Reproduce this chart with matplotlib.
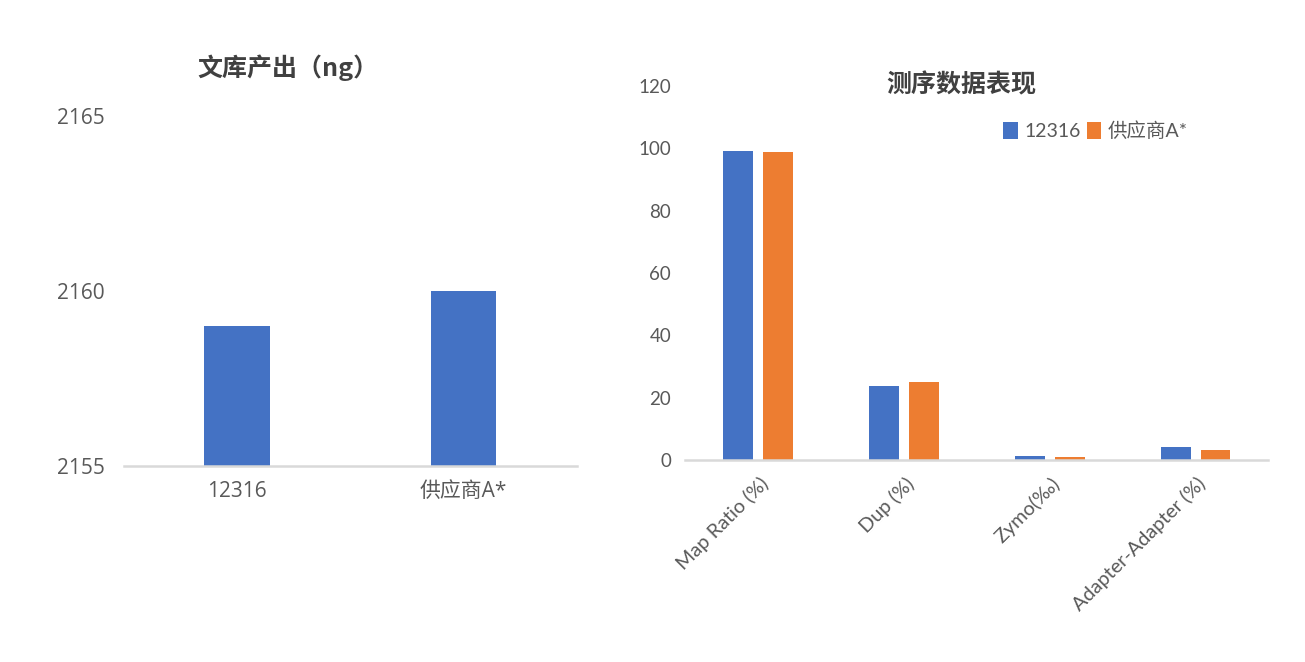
import matplotlib
matplotlib.use("Agg")
import matplotlib.pyplot as plt
import numpy as np

plt.rcParams["font.family"] = ["Open Sans", "Noto Sans CJK SC", "DejaVu Sans"]

# left chart: library yield
yield_labels = ["12316", "供应商A*"]
yield_values = [2159.0, 2160.0]
yield_ticks = [2155, 2160, 2165]

# right chart: sequencing metrics
metric_labels = ["Map Ratio (%)", "Dup (%)", "Zymo(‰)", "Adapter-Adapter (%)"]
series_names = ["12316", "供应商A*"]
series_12316 = [99.3, 23.8, 1.4, 4.1]
series_vendor = [98.9, 25.1, 1.0, 3.2]
metric_ticks = [0, 20, 40, 60, 80, 100, 120]

BLUE = "#4472C4"
ORANGE = "#ED7D31"
TEXT = "#595959"
TITLE = "#404040"
AXIS = "#D9D9D9"
CJK = ["Noto Sans CJK SC", "DejaVu Sans"]
LATIN = ["Lato", "Noto Sans CJK SC", "DejaVu Sans"]

fig = plt.figure(figsize=(13.05, 6.62), dpi=100)

# ---- left chart
ax1 = fig.add_axes([0.095, 0.296, 0.347, 0.529])
x1 = np.arange(len(yield_labels))
ax1.bar(x1, np.array(yield_values) - yield_ticks[0], bottom=yield_ticks[0],
        width=0.29, color=BLUE)
ax1.set_xlim(-0.5, len(yield_labels) - 0.5)
ax1.set_ylim(yield_ticks[0], yield_ticks[-1])
ax1.set_yticks(yield_ticks)
ax1.set_xticks(x1)
ax1.set_xticklabels(yield_labels)
for s in ["top", "right", "left"]:
    ax1.spines[s].set_visible(False)
ax1.spines["bottom"].set_color(AXIS)
ax1.spines["bottom"].set_linewidth(1.8)
ax1.tick_params(axis="both", length=0, colors=TEXT, labelsize=15)
ax1.tick_params(axis="y", pad=14)
ax1.tick_params(axis="x", pad=11)
fig.text(288 / 1305, 1 - 68 / 662, "文库产出（ng）", fontsize=18,
         fontweight="bold", color=TITLE, family=CJK, ha="center", va="center")

# ---- right chart
ax2 = fig.add_axes([0.525, 0.305, 0.447, 0.565])
x2 = np.arange(len(metric_labels))
w = 0.205
ax2.bar(x2 - 0.137, series_12316, width=w, color=BLUE, label=series_names[0])
ax2.bar(x2 + 0.137, series_vendor, width=w, color=ORANGE, label=series_names[1])
ax2.set_xlim(-0.5, len(metric_labels) - 0.5)
ax2.set_ylim(metric_ticks[0], metric_ticks[-1])
ax2.set_yticks(metric_ticks)
ax2.set_xticks(x2 + 0.05)
ax2.set_xticklabels(metric_labels, rotation=45, ha="right", va="center",
                    rotation_mode="anchor", family=LATIN, fontsize=14.3)
for lbl in ax2.get_yticklabels():
    lbl.set_family(LATIN)
for s in ["top", "right", "left"]:
    ax2.spines[s].set_visible(False)
ax2.spines["bottom"].set_color(AXIS)
ax2.spines["bottom"].set_linewidth(1.8)
ax2.tick_params(axis="y", length=0, colors=TEXT, labelsize=13.5, pad=10)
ax2.tick_params(axis="x", length=0, colors=TEXT, pad=15)
fig.text(961 / 1305, 1 - 85 / 662, "测序数据表现", fontsize=18,
         fontweight="bold", color=TITLE, family=CJK, ha="center", va="center")
leg = ax2.legend(loc="center left", bbox_to_anchor=(0.515, 0.88), ncol=2,
                 frameon=False, handlelength=0.75, handleheight=1.0,
                 handletextpad=0.35, columnspacing=0.3,
                 prop={"family": LATIN, "size": 14})
for t in leg.get_texts():
    t.set_color(TEXT)

fig.savefig("out.png", dpi=100)
